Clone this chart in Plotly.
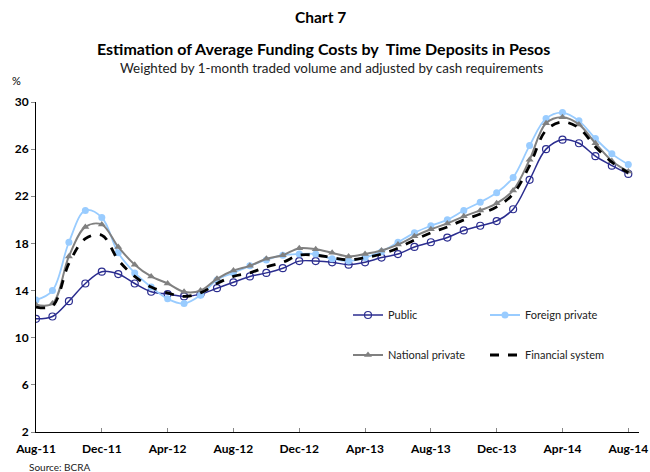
import plotly.graph_objects as go

# Monthly series, Aug-11 .. Aug-14 (37 points)
months = ["Aug-11", "Sep-11", "Oct-11", "Nov-11", "Dec-11", "Jan-12", "Feb-12", "Mar-12",
          "Apr-12", "May-12", "Jun-12", "Jul-12", "Aug-12", "Sep-12", "Oct-12", "Nov-12",
          "Dec-12", "Jan-13", "Feb-13", "Mar-13", "Apr-13", "May-13", "Jun-13", "Jul-13",
          "Aug-13", "Sep-13", "Oct-13", "Nov-13", "Dec-13", "Jan-14", "Feb-14", "Mar-14",
          "Apr-14", "May-14", "Jun-14", "Jul-14", "Aug-14"]

public = [11.6, 11.8, 13.1, 14.6, 15.6, 15.4, 14.6, 13.9, 13.7, 13.5, 13.7, 14.2,
          14.7, 15.2, 15.5, 15.9, 16.5, 16.5, 16.4, 16.2, 16.4, 16.8, 17.1, 17.7,
          18.1, 18.5, 19.1, 19.5, 19.9, 20.9, 23.4, 26.0, 26.8, 26.5, 25.4, 24.6, 23.9]
foreign_private = [13.2, 14.0, 18.1, 20.8, 20.2, 17.2, 15.5, 14.3, 13.3, 12.9, 13.6, 14.9,
                   15.5, 16.1, 16.6, 17.0, 17.1, 17.1, 16.7, 16.5, 16.8, 17.3, 18.1, 18.9,
                   19.5, 20.0, 20.8, 21.5, 22.3, 23.6, 26.3, 28.6, 29.1, 28.4, 26.9, 25.6, 24.7]
national_private = [12.8, 12.9, 16.9, 19.4, 19.6, 17.7, 16.2, 15.2, 14.6, 13.9, 14.0, 15.0,
                    15.7, 16.1, 16.7, 17.0, 17.6, 17.5, 17.2, 16.9, 17.1, 17.4, 17.9, 18.6,
                    19.2, 19.7, 20.3, 20.8, 21.4, 22.5, 25.1, 28.2, 28.7, 28.1, 26.5, 25.0, 24.1]
financial_system = [12.6, 12.7, 16.3, 18.4, 18.7, 16.6, 15.2, 14.3, 13.8, 13.5, 13.8, 14.6,
                    15.2, 15.5, 16.0, 16.4, 17.0, 17.0, 16.8, 16.6, 16.8, 17.1, 17.6, 18.3,
                    18.9, 19.4, 20.0, 20.5, 21.1, 22.2, 24.6, 27.6, 28.3, 27.8, 26.2, 24.9, 24.0]

y_ticks = [2, 6, 10, 14, 18, 22, 26, 30]

x = list(range(len(months)))
tick_idx = list(range(0, len(months), 4))

FONT = "Lato, 'Open Sans', sans-serif"

fig = go.Figure()

fig.add_trace(go.Scatter(
    x=x, y=public, name="Public", mode="lines+markers", line_shape="spline",
    line=dict(color="#2B2D8F", width=1.5),
    marker=dict(symbol="circle-open", size=7, color="#2B2D8F", line=dict(width=1.2)),
    legend="legend",
))
fig.add_trace(go.Scatter(
    x=x, y=foreign_private, name="Foreign private", mode="lines+markers", line_shape="spline",
    line=dict(color="#99CCFF", width=1.8),
    marker=dict(symbol="circle", size=7, color="#99CCFF"),
    legend="legend",
))
fig.add_trace(go.Scatter(
    x=x, y=national_private, name="National private", mode="lines+markers", line_shape="spline",
    line=dict(color="#808080", width=2),
    marker=dict(symbol="triangle-up", size=7, color="#808080"),
    legend="legend2",
))
fig.add_trace(go.Scatter(
    x=x, y=financial_system, name="Financial system", mode="lines", line_shape="spline",
    line=dict(color="#000000", width=2.8, dash="dash"),
    legend="legend2",
))

# plot area in page pixels (body margin removed below)
W, H = 650, 472
L, R, T, B = 36, 639, 102, 432


def py(p):
    return (B - p) / (B - T)


def px(p):
    return (p - L) / (R - L)


leg_common = dict(orientation="h", xanchor="left", yanchor="middle",
                  font=dict(family=FONT, size=11, color="#222"),
                  bgcolor="rgba(0,0,0,0)", entrywidth=92, itemwidth=30,
                  traceorder="normal")

fig.update_layout(
    width=W, height=H,
    margin=dict(l=L, r=W - R, t=T, b=H - B, autoexpand=False),
    plot_bgcolor="white", paper_bgcolor="white",
    font=dict(family=FONT, size=12, color="#000"),
    legend=dict(x=px(348), y=py(315), **leg_common),
    legend2=dict(x=px(348), y=py(355), **leg_common),
    annotations=[
        dict(text="<b>Chart 7</b>", x=px(320), y=py(17), xref="paper", yref="paper",
             showarrow=False, font=dict(size=15.5), xanchor="center", yanchor="middle"),
        dict(text="<b>Estimation of Average Funding Costs by  Time Deposits in Pesos</b>",
             x=px(323), y=py(49), xref="paper", yref="paper", showarrow=False,
             font=dict(size=16), xanchor="center", yanchor="middle"),
        dict(text="Weighted by 1-month traded volume and adjusted by cash requirements",
             x=px(331), y=py(68), xref="paper", yref="paper", showarrow=False,
             font=dict(size=13.4, color="#222"), xanchor="center", yanchor="middle"),
        dict(text="%", x=px(16), y=py(81), xref="paper", yref="paper",
             showarrow=False, font=dict(size=11), xanchor="center", yanchor="middle"),
        dict(text="Source: BCRA", x=px(27), y=py(467), xref="paper", yref="paper",
             showarrow=False, font=dict(size=10, color="#222"), xanchor="left", yanchor="middle"),
    ],
)

fig.update_xaxes(
    range=[0, 36.65], tickvals=tick_idx, ticktext=[f"<b>{months[i]}</b>" for i in tick_idx],
    showline=True, linecolor="#000", linewidth=1, showgrid=False, zeroline=False,
    ticks="inside", ticklen=4, tickcolor="#888", tickfont=dict(size=12), automargin=False,
    ticklabelstandoff=6,
)
fig.update_yaxes(
    range=[2, 30], tickvals=y_ticks, ticktext=[f"<b>{v}</b>" for v in y_ticks],
    showline=True, linecolor="#000", linewidth=1, showgrid=False, zeroline=False,
    ticks="outside", ticklen=4, tickcolor="#888", tickfont=dict(size=12), automargin=False,
)

fig.write_html("out.html", config={"displayModeBar": False},
               post_script="document.body.style.margin='0';")
